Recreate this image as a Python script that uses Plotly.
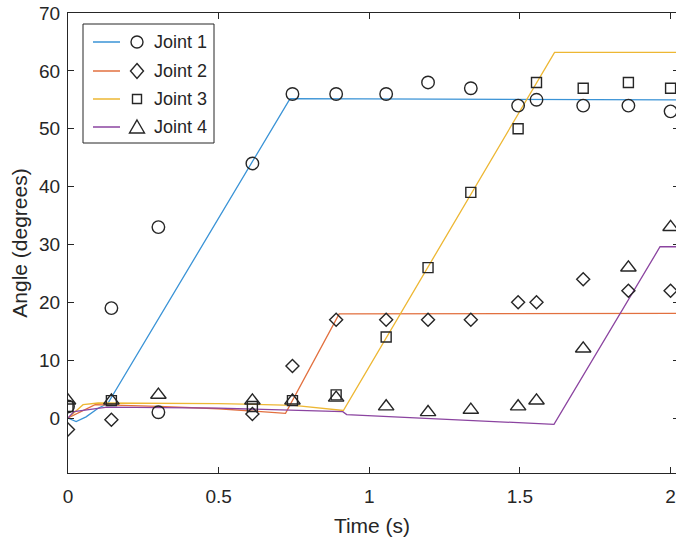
import plotly.graph_objects as go

# ---------------- data ----------------
series_names = ["Joint 1", "Joint 2", "Joint 3", "Joint 4"]
line_colors = ["#3A93D6", "#E2703F", "#EDB733", "#8B44A0"]
marker_symbols = ["circle-open", "diamond-open", "square-open", "triangle-up-open"]
marker_sizes = [12.5, 10, 10, 13.5]

# simulated trajectories (lines)
line_t1 = [0, 0.027, 0.06, 0.10, 0.132, 0.737, 2.03]
line_v1 = [0, -0.6, 0.2, 1.7, 2.5, 55.2, 55.0]
line_t2 = [0, 0.03, 0.09, 0.3, 0.5, 0.722, 0.90, 2.03]
line_v2 = [0, 0.8, 2.3, 2.0, 1.6, 0.8, 18.0, 18.1]
line_t3 = [0, 0.05, 0.10, 0.5, 0.75, 0.914, 1.615, 2.03]
line_v3 = [0, 2.3, 2.6, 2.5, 2.2, 1.3, 63.2, 63.2]
line_t4 = [0, 0.02, 0.13, 0.5, 0.912, 0.925, 1.613, 1.965, 2.03]
line_v4 = [0, 1.1, 1.9, 1.7, 1.1, 0.6, -1.1, 29.6, 29.6]

# measured samples (markers)
meas_t1 = [0, 0.144, 0.3, 0.3, 0.612, 0.745, 0.89, 1.056, 1.195, 1.337, 1.494, 1.555, 1.71, 1.86, 2.0]
meas_v1 = [2, 19, 33, 1, 44, 56, 56, 56, 58, 57, 54, 55, 54, 54, 53]
meas_t2 = [0, 0.144, 0.612, 0.745, 0.89, 1.056, 1.195, 1.337, 1.494, 1.555, 1.71, 1.86, 2.0]
meas_v2 = [-2, -0.3, 0.7, 9, 17, 17, 17, 17, 20, 20, 24, 22, 22]
meas_t3 = [0, 0.144, 0.612, 0.745, 0.89, 1.056, 1.195, 1.337, 1.494, 1.555, 1.71, 1.86, 2.0]
meas_v3 = [2, 3, 2, 3, 4, 14, 26, 39, 50, 58, 57, 58, 57]
meas_t4 = [0, 0.144, 0.3, 0.612, 0.745, 0.89, 1.056, 1.195, 1.337, 1.494, 1.555, 1.71, 1.86, 2.0]
meas_v4 = [3, 3, 4, 3, 3, 3.5, 2, 1, 1.4, 2, 3, 12, 26, 33]

x_tickvals = [0, 0.5, 1, 1.5, 2]
x_ticktext = ["0", "0.5", "1", "1.5", "2"]
y_tickvals = [0, 10, 20, 30, 40, 50, 60, 70]
x_range = [0, 2.018]
y_range = [-9.5, 70]

lines_t = [line_t1, line_t2, line_t3, line_t4]
lines_v = [line_v1, line_v2, line_v3, line_v4]
meas_t = [meas_t1, meas_t2, meas_t3, meas_t4]
meas_v = [meas_v1, meas_v2, meas_v3, meas_v4]

# ---------------- figure ----------------
W, H = 676, 537
ML, MR, MT, MB = 68, 0, 13, 64
PW, PH = W - ML - MR, H - MT - MB
ink = "#262626"
font_family = "Liberation Sans, Arial, Helvetica, sans-serif"

fig = go.Figure()
for i in range(4):
    fig.add_trace(go.Scatter(x=lines_t[i], y=lines_v[i], mode="lines",
                             line=dict(color=line_colors[i], width=1.3),
                             showlegend=False, hoverinfo="skip"))
for i in range(4):
    fig.add_trace(go.Scatter(x=meas_t[i], y=meas_v[i], mode="markers",
                             marker=dict(symbol=marker_symbols[i], size=marker_sizes[i],
                                         color=ink, line=dict(width=1.4, color=ink)),
                             name=series_names[i], showlegend=False))
# empty trace to carry the right-hand tick axis
fig.add_trace(go.Scatter(x=[], y=[], yaxis="y2", showlegend=False, hoverinfo="skip"))


# page pixel -> paper coordinates
def px_x(p):
    return (p - ML) / PW


def px_y(p):
    return (H - MB - p) / PH


shapes = []
annotations = []
# legend box
shapes.append(dict(type="rect", xref="paper", yref="paper",
                   x0=px_x(83), x1=px_x(214), y0=px_y(143), y1=px_y(24),
                   fillcolor="white", line=dict(color=ink, width=1), layer="above"))
rows = [42, 71, 99, 127]
mx = 137
for i, ry in enumerate(rows):
    shapes.append(dict(type="line", xref="paper", yref="paper",
                       x0=px_x(93), x1=px_x(120), y0=px_y(ry), y1=px_y(ry),
                       line=dict(color=line_colors[i], width=1.5), layer="above"))
    mline = dict(color=ink, width=1.4)
    if i == 0:
        r = 6
        shapes.append(dict(type="circle", xref="paper", yref="paper",
                           x0=px_x(mx - r), x1=px_x(mx + r), y0=px_y(ry + r), y1=px_y(ry - r),
                           line=mline, layer="above"))
    elif i == 1:
        hw, hh = 6.5, 7.5
        path = "M {} {} L {} {} L {} {} L {} {} Z".format(
            px_x(mx), px_y(ry - hh), px_x(mx + hw), px_y(ry),
            px_x(mx), px_y(ry + hh), px_x(mx - hw), px_y(ry))
        shapes.append(dict(type="path", xref="paper", yref="paper", path=path,
                           line=mline, layer="above"))
    elif i == 2:
        h = 4.5
        shapes.append(dict(type="rect", xref="paper", yref="paper",
                           x0=px_x(mx - h), x1=px_x(mx + h), y0=px_y(ry + h), y1=px_y(ry - h),
                           line=mline, layer="above"))
    else:
        hw, top, bot = 7.5, 7, 6
        path = "M {} {} L {} {} L {} {} Z".format(
            px_x(mx), px_y(ry - top), px_x(mx + hw), px_y(ry + bot),
            px_x(mx - hw), px_y(ry + bot))
        shapes.append(dict(type="path", xref="paper", yref="paper", path=path,
                           line=mline, layer="above"))
    annotations.append(dict(xref="paper", yref="paper", x=px_x(152), y=px_y(ry),
                            xanchor="left", yanchor="middle", text=series_names[i],
                            showarrow=False, font=dict(size=18, color=ink, family=font_family)))

axis_common = dict(showgrid=False, zeroline=False, ticks="inside", ticklen=6,
                   tickcolor=ink, tickwidth=1, showline=True, linecolor=ink, linewidth=1,
                   ticklabeloverflow="allow",
                   tickfont=dict(size=19, color=ink, family=font_family))

fig.update_layout(
    width=W, height=H,
    margin=dict(l=ML, r=MR, t=MT, b=MB, autoexpand=False),
    paper_bgcolor="white", plot_bgcolor="white",
    font=dict(family=font_family, color=ink),
    xaxis=dict(range=x_range, tickvals=x_tickvals, ticktext=x_ticktext, mirror="ticks",
               title=dict(text="Time (s)", font=dict(size=21, color=ink), standoff=12),
               ticklabelstandoff=6, **axis_common),
    yaxis=dict(range=y_range, tickvals=y_tickvals, mirror=False,
               title=dict(text="Angle (degrees)", font=dict(size=21, color=ink), standoff=5),
               ticklabelstandoff=3, **axis_common),
    yaxis2=dict(range=y_range, tickvals=y_tickvals, overlaying="y", side="right",
                ticks="inside", ticklen=3, tickcolor=ink, showline=False,
                showticklabels=False, showgrid=False, zeroline=False),
    shapes=shapes, annotations=annotations,
    showlegend=False,
)

# remove the default page margin so the 676x537 figure fills the window exactly
fig.write_html("out.html",
               config={"displayModeBar": False},
               post_script="document.body.style.margin='0';"
                           "document.documentElement.style.overflow='hidden';")
